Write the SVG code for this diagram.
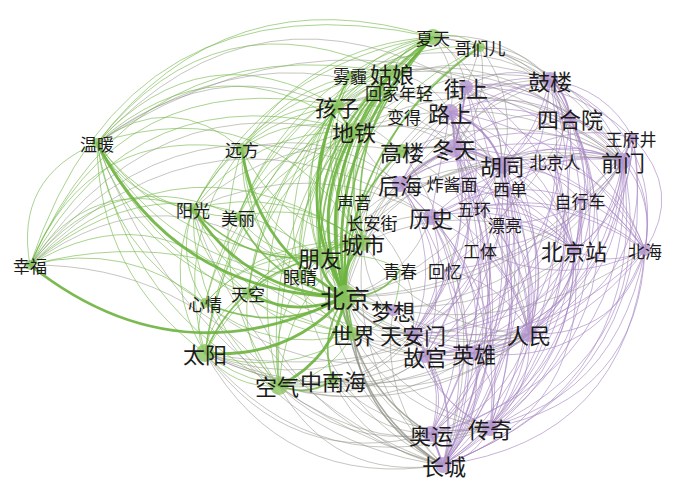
<svg xmlns="http://www.w3.org/2000/svg" width="700" height="492" viewBox="0 0 700 492">
<style>
#edges path{fill:none;stroke-linecap:round}
.g{stroke:#76b84c;stroke-opacity:.62;stroke-width:1}
.gm{stroke:#6cb33e;stroke-opacity:.82;stroke-width:1.7}
.gt{stroke:#6cb33e;stroke-opacity:.9;stroke-width:2.8}
.p{stroke:#a584c1;stroke-opacity:.62;stroke-width:1}
.pm{stroke:#a27fc0;stroke-opacity:.8;stroke-width:1.9}
.m{stroke:#8b8d82;stroke-opacity:.5;stroke-width:1}
.mm{stroke:#8b8d82;stroke-opacity:.75;stroke-width:1.6}
.ng{fill:#8cc461;fill-opacity:.8}
.np{fill:#b497cf;fill-opacity:.8}
text{font-family:"Noto Sans CJK SC","Noto Sans CJK JP",sans-serif;fill:#1b1b1b;text-anchor:middle;dominant-baseline:central}
.L{font-size:22px}.S{font-size:17px}.X{font-size:25px}
</style>
<rect width="700" height="492" fill="#ffffff"/>
<g id="edges">
<path class="p" d="M466 87Q505 62 550 80"/>
<path class="p" d="M466 87Q525 76 570 118"/>
<path class="p" d="M466 87Q562 84 623 161"/>
<path class="p" d="M466 87Q563 70 633 138"/>
<path class="p" d="M466 87Q503 117 502 165"/>
<path class="p" d="M466 87Q560 141 574 250"/>
<path class="pm" d="M466 87Q462 118 454 148"/>
<path class="p" d="M466 87Q558 194 529 334"/>
<path class="p" d="M466 87Q597 124 645 250"/>
<path class="p" d="M466 87Q549 282 443 465"/>
<path class="p" d="M466 87Q502 224 413 334"/>
<path class="pm" d="M550 80Q567 93 570 118"/>
<path class="p" d="M550 80Q606 102 623 161"/>
<path class="p" d="M550 80Q607 88 633 138"/>
<path class="p" d="M550 80Q664 128 645 250"/>
<path class="p" d="M550 80Q604 159 574 250"/>
<path class="p" d="M550 80Q641 216 529 334"/>
<path class="p" d="M550 80Q492 71 450 112"/>
<path class="p" d="M550 80Q547 134 502 165"/>
<path class="p" d="M550 80Q649 316 443 465"/>
<path class="p" d="M550 80Q485 90 454 148"/>
<path class="p" d="M570 118Q607 126 623 161"/>
<path class="p" d="M570 118Q660 155 645 250"/>
<path class="p" d="M570 118Q604 183 574 250"/>
<path class="p" d="M570 118Q644 343 443 465"/>
<path class="p" d="M570 118Q635 243 529 334"/>
<path class="p" d="M570 118Q524 124 502 165"/>
<path class="p" d="M570 118Q511 85 450 112"/>
<path class="p" d="M570 118Q654 305 490 428"/>
<path class="pm" d="M633 138Q626 150 623 161"/>
<path class="p" d="M633 138Q684 191 645 250"/>
<path class="p" d="M633 138Q632 210 574 250"/>
<path class="p" d="M633 138Q668 380 443 465"/>
<path class="p" d="M633 138Q660 279 529 334"/>
<path class="p" d="M633 138Q618 330 425 356"/>
<path class="p" d="M623 161Q655 200 645 250"/>
<path class="p" d="M623 161Q620 218 574 250"/>
<path class="p" d="M623 161Q653 386 443 465"/>
<path class="p" d="M623 161Q637 374 431 434"/>
<path class="p" d="M623 161Q663 347 490 428"/>
<path class="p" d="M623 161Q619 271 529 334"/>
<path class="p" d="M623 161Q588 330 413 334"/>
<path class="p" d="M623 161Q562 133 502 165"/>
<path class="p" d="M623 161Q589 144 555 161"/>
<path class="p" d="M623 161Q542 112 454 148"/>
<path class="p" d="M623 161Q506 116 400 184"/>
<path class="p" d="M623 161Q600 175 580 200"/>
<path class="p" d="M623 161Q626 316 474 353"/>
<path class="p" d="M623 161Q603 336 425 356"/>
<path class="p" d="M645 250Q628 440 443 465"/>
<path class="p" d="M645 250Q611 427 431 434"/>
<path class="p" d="M645 250Q638 400 490 428"/>
<path class="p" d="M645 250Q620 338 529 334"/>
<path class="p" d="M645 250Q601 369 474 353"/>
<path class="p" d="M645 250Q608 268 574 250"/>
<path class="p" d="M645 250Q594 173 502 165"/>
<path class="p" d="M645 250Q550 349 413 334"/>
<path class="p" d="M645 250Q562 358 425 356"/>
<path class="p" d="M574 250Q593 411 443 465"/>
<path class="p" d="M574 250Q576 360 490 428"/>
<path class="p" d="M574 250Q572 303 529 334"/>
<path class="p" d="M574 250Q515 331 413 334"/>
<path class="p" d="M574 250Q527 340 425 356"/>
<path class="p" d="M574 250Q511 199 431 217"/>
<path class="p" d="M574 250Q559 190 502 165"/>
<path class="p" d="M574 250Q582 224 580 200"/>
<path class="p" d="M574 250Q576 399 431 434"/>
<path class="p" d="M574 250Q550 327 474 353"/>
<path class="p" d="M529 334Q517 422 443 465"/>
<path class="p" d="M529 334Q505 408 431 434"/>
<path class="p" d="M529 334Q533 391 490 428"/>
<path class="p" d="M529 334Q507 357 474 353"/>
<path class="p" d="M529 334Q472 362 413 334"/>
<path class="p" d="M529 334Q483 370 425 356"/>
<path class="p" d="M529 334Q509 252 431 217"/>
<path class="p" d="M529 334Q557 243 502 165"/>
<path class="p" d="M529 334Q538 223 454 148"/>
<path class="p" d="M474 353Q486 418 443 465"/>
<path class="p" d="M474 353Q473 405 431 434"/>
<path class="p" d="M474 353Q502 387 490 428"/>
<path class="p" d="M474 353Q443 350 413 334"/>
<path class="p" d="M474 353Q536 266 502 165"/>
<path class="p" d="M474 353Q580 236 550 80"/>
<path class="p" d="M425 356Q461 408 443 465"/>
<path class="p" d="M425 356Q449 394 431 434"/>
<path class="p" d="M425 356Q441 408 490 428"/>
<path class="p" d="M425 356Q450 366 474 353"/>
<path class="p" d="M425 356Q557 273 570 118"/>
<path class="p" d="M413 334Q461 393 443 465"/>
<path class="p" d="M413 334Q448 380 431 434"/>
<path class="p" d="M413 334Q429 400 490 428"/>
<path class="p" d="M413 334Q425 340 425 356"/>
<path class="pm" d="M431 434Q438 450 443 465"/>
<path class="p" d="M490 428Q474 459 443 465"/>
<path class="p" d="M490 428Q460 428 431 434"/>
<path class="p" d="M431 434Q580 311 570 118"/>
<path class="p" d="M490 428Q607 269 550 80"/>
<path class="p" d="M490 428Q590 311 555 161"/>
<path class="pm" d="M502 165Q478 150 454 148"/>
<path class="p" d="M502 165Q530 155 555 161"/>
<path class="p" d="M502 165Q447 149 400 184"/>
<path class="p" d="M502 165Q480 209 431 217"/>
<path class="p" d="M502 165Q546 331 443 465"/>
<path class="p" d="M502 165Q534 318 431 434"/>
<path class="p" d="M502 165Q562 300 490 428"/>
<path class="p" d="M502 165Q501 271 413 334"/>
<path class="p" d="M502 165Q513 280 425 356"/>
<path class="pm" d="M502 165Q489 126 450 112"/>
<path class="p" d="M502 165Q550 163 580 200"/>
<path class="p" d="M502 165Q510 175 510 188"/>
<path class="p" d="M502 165Q485 180 474 208"/>
<path class="p" d="M502 165Q512 195 505 224"/>
<path class="p" d="M502 165Q561 119 633 138"/>
<path class="p" d="M454 148Q527 311 443 465"/>
<path class="p" d="M454 148Q543 279 490 428"/>
<path class="p" d="M454 148Q481 251 413 334"/>
<path class="pm" d="M454 148Q425 160 400 184"/>
<path class="p" d="M454 148Q540 170 574 250"/>
<path class="p" d="M454 148Q505 104 570 118"/>
<path class="p" d="M454 148Q575 151 645 250"/>
<path class="p" d="M454 148Q492 259 425 356"/>
<path class="p" d="M454 148Q515 246 474 353"/>
<path class="p" d="M454 148Q514 297 431 434"/>
<path class="p" d="M450 112Q533 291 443 465"/>
<path class="p" d="M450 112Q545 204 529 334"/>
<path class="p" d="M450 112Q488 232 413 334"/>
<path class="p" d="M450 112Q546 150 574 250"/>
<path class="p" d="M450 112Q440 165 431 217"/>
<path class="p" d="M450 112Q420 145 400 184"/>
<path class="pm" d="M450 112Q455 130 454 148"/>
<path class="p" d="M450 112Q521 278 431 434"/>
<path class="p" d="M450 112Q549 260 490 428"/>
<path class="p" d="M450 112Q499 240 425 356"/>
<path class="p" d="M450 112Q549 94 623 161"/>
<path class="p" d="M450 112Q582 132 645 250"/>
<path class="p" d="M400 184Q491 314 443 465"/>
<path class="p" d="M400 184Q457 263 425 356"/>
<path class="p" d="M400 184Q502 227 529 334"/>
<path class="p" d="M400 184Q504 174 574 250"/>
<path class="p" d="M400 184Q415 200 431 217"/>
<path class="p" d="M400 184Q444 256 413 334"/>
<path class="p" d="M400 184Q506 284 490 428"/>
<path class="p" d="M400 184Q449 95 550 80"/>
<path class="p" d="M431 217Q498 339 443 465"/>
<path class="p" d="M431 217Q514 308 490 428"/>
<path class="p" d="M431 217Q453 279 413 334"/>
<path class="p" d="M431 217Q514 141 623 161"/>
<path class="p" d="M431 217Q546 180 645 250"/>
<path class="p" d="M431 217Q485 326 431 434"/>
<path class="p" d="M431 217Q487 274 474 353"/>
<path class="p" d="M431 217Q525 179 550 80"/>
<path class="p" d="M580 200Q576 368 443 465"/>
<path class="p" d="M580 200Q588 280 529 334"/>
<path class="p" d="M580 200Q530 309 413 334"/>
<path class="p" d="M580 200Q502 172 431 217"/>
<path class="p" d="M580 200Q620 215 645 250"/>
<path class="p" d="M510 188Q546 343 443 465"/>
<path class="p" d="M510 188Q498 286 413 334"/>
<path class="p" d="M510 188Q560 147 623 161"/>
<path class="p" d="M510 188Q558 203 574 250"/>
<path class="p" d="M510 188Q556 256 529 334"/>
<path class="p" d="M474 208Q523 344 443 465"/>
<path class="p" d="M474 208Q533 257 529 334"/>
<path class="p" d="M474 208Q535 204 574 250"/>
<path class="p" d="M474 208Q570 186 645 250"/>
<path class="p" d="M474 208Q537 148 623 161"/>
<path class="p" d="M505 224Q533 360 443 465"/>
<path class="p" d="M505 224Q580 222 623 161"/>
<path class="p" d="M505 224Q521 348 431 434"/>
<path class="p" d="M505 224Q545 225 574 250"/>
<path class="p" d="M505 224Q545 273 529 334"/>
<path class="p" d="M480 250Q514 368 443 465"/>
<path class="p" d="M480 250Q574 241 623 161"/>
<path class="p" d="M480 250Q563 291 645 250"/>
<path class="p" d="M480 250Q520 280 529 334"/>
<path class="p" d="M480 250Q468 309 413 334"/>
<path class="p" d="M445 270Q494 368 443 465"/>
<path class="p" d="M445 270Q562 260 623 161"/>
<path class="p" d="M445 270Q545 201 550 80"/>
<path class="p" d="M445 270Q440 310 413 334"/>
<path class="p" d="M445 270Q503 281 529 334"/>
<path class="p" d="M555 161Q574 342 443 465"/>
<path class="p" d="M555 161Q585 255 529 334"/>
<path class="p" d="M555 161Q621 184 645 250"/>
<path class="p" d="M555 161Q573 120 550 80"/>
<path class="p" d="M452 183Q532 129 623 161"/>
<path class="p" d="M452 183Q529 240 529 334"/>
<path class="p" d="M452 183Q519 326 443 465"/>
<path class="p" d="M452 183Q480 165 502 165"/>
<path class="p" d="M452 183Q530 186 574 250"/>
<path class="mm" d="M345 297Q350 405 443 465"/>
<path class="mm" d="M345 297Q354 387 431 434"/>
<path class="m" d="M345 297Q384 398 490 428"/>
<path class="m" d="M345 297Q427 361 529 334"/>
<path class="m" d="M345 297Q518 298 623 161"/>
<path class="m" d="M345 297Q502 263 570 118"/>
<path class="m" d="M345 297Q393 137 550 80"/>
<path class="m" d="M345 297Q456 270 502 165"/>
<path class="m" d="M345 297Q471 330 574 250"/>
<path class="mm" d="M345 297Q371 332 413 334"/>
<path class="m" d="M345 297Q371 347 425 356"/>
<path class="m" d="M345 297Q408 279 431 217"/>
<path class="m" d="M345 297Q352 162 466 87"/>
<path class="m" d="M345 297Q396 357 474 353"/>
<path class="m" d="M345 297Q529 290 633 138"/>
<path class="m" d="M345 297Q507 349 645 250"/>
<path class="m" d="M345 297Q363 196 454 148"/>
<path class="m" d="M345 297Q352 179 450 112"/>
<path class="m" d="M97 143Q252 25 402 151"/>
<path class="m" d="M97 143Q366 -32 623 161"/>
<path class="m" d="M97 143Q259 -32 466 87"/>
<path class="m" d="M97 143Q308 -8 502 165"/>
<path class="m" d="M97 143Q190 390 443 465"/>
<path class="m" d="M30 265Q170 59 402 151"/>
<path class="m" d="M30 265Q212 80 431 217"/>
<path class="m" d="M30 265Q182 76 400 184"/>
<path class="m" d="M30 265Q170 161 300 276"/>
<path class="m" d="M30 265Q185 264 279 386"/>
<path class="m" d="M193 209Q282 128 402 151"/>
<path class="m" d="M193 209Q314 153 431 217"/>
<path class="m" d="M193 209Q272 327 413 334"/>
<path class="m" d="M193 209Q254 400 443 465"/>
<path class="m" d="M242 149Q329 126 400 184"/>
<path class="m" d="M205 353Q283 491 443 465"/>
<path class="m" d="M205 353Q290 472 431 434"/>
<path class="m" d="M205 353Q315 410 425 356"/>
<path class="m" d="M205 353Q315 395 413 334"/>
<path class="m" d="M205 353Q371 424 529 334"/>
<path class="m" d="M205 353Q321 490 490 428"/>
<path class="m" d="M205 353Q340 420 474 353"/>
<path class="m" d="M205 353Q416 394 574 250"/>
<path class="m" d="M279 386Q333 482 443 465"/>
<path class="m" d="M279 386Q343 448 431 434"/>
<path class="m" d="M279 386Q375 460 490 428"/>
<path class="m" d="M279 386Q361 408 425 356"/>
<path class="m" d="M279 386Q386 419 474 353"/>
<path class="m" d="M279 386Q417 423 529 334"/>
<path class="m" d="M279 386Q359 394 413 334"/>
<path class="m" d="M248 293Q303 428 443 465"/>
<path class="m" d="M205 303Q284 444 443 465"/>
<path class="m" d="M205 303Q302 385 425 356"/>
<path class="m" d="M300 276Q325 407 443 465"/>
<path class="mm" d="M353 334Q363 421 443 465"/>
<path class="m" d="M353 334Q383 349 413 334"/>
<path class="m" d="M353 334Q440 378 529 334"/>
<path class="m" d="M353 334Q385 358 425 356"/>
<path class="m" d="M353 334Q367 404 431 434"/>
<path class="m" d="M353 334Q398 415 490 428"/>
<path class="m" d="M320 257Q328 391 443 465"/>
<path class="m" d="M320 257Q447 132 623 161"/>
<path class="m" d="M320 257Q388 165 502 165"/>
<path class="m" d="M320 257Q406 348 529 334"/>
<path class="m" d="M320 257Q348 319 413 334"/>
<path class="m" d="M363 243Q390 212 431 217"/>
<path class="m" d="M363 243Q422 330 529 334"/>
<path class="m" d="M363 243Q469 193 574 250"/>
<path class="m" d="M363 243Q348 374 443 465"/>
<path class="m" d="M363 243Q365 301 413 334"/>
<path class="m" d="M363 243Q413 169 502 165"/>
<path class="m" d="M363 243Q385 173 454 148"/>
<path class="m" d="M363 243Q370 205 400 184"/>
<path class="m" d="M433 37Q460 70 450 112"/>
<path class="m" d="M433 37Q461 54 466 87"/>
<path class="m" d="M433 37Q502 29 550 80"/>
<path class="m" d="M433 37Q522 44 570 118"/>
<path class="m" d="M433 37Q500 84 502 165"/>
<path class="m" d="M433 37Q559 52 623 161"/>
<path class="m" d="M480 47Q523 46 550 80"/>
<path class="m" d="M480 47Q474 68 466 87"/>
<path class="m" d="M480 47Q543 60 570 118"/>
<path class="m" d="M480 47Q520 100 502 165"/>
<path class="m" d="M480 47Q580 68 623 161"/>
<path class="m" d="M480 47Q492 104 454 148"/>
<path class="m" d="M392 73Q433 61 466 87"/>
<path class="m" d="M392 73Q431 78 450 112"/>
<path class="m" d="M392 73Q530 59 623 161"/>
<path class="m" d="M337 106Q395 80 450 112"/>
<path class="m" d="M337 106Q407 97 454 148"/>
<path class="m" d="M337 106Q494 62 623 161"/>
<path class="m" d="M354 131Q408 114 454 148"/>
<path class="m" d="M354 131Q436 111 502 165"/>
<path class="m" d="M354 131Q438 56 550 80"/>
<path class="m" d="M354 131Q458 70 570 118"/>
<path class="m" d="M354 131Q496 79 623 161"/>
<path class="m" d="M354 131Q370 165 400 184"/>
<path class="m" d="M337 106Q437 39 550 80"/>
<path class="m" d="M392 73Q493 51 570 118"/>
<path class="m" d="M350 75Q451 27 550 80"/>
<path class="mm" d="M454 148Q430 145 402 151"/>
<path class="m" d="M402 151Q450 140 502 165"/>
<path class="m" d="M402 151Q458 79 550 80"/>
<path class="m" d="M372 222Q420 268 413 334"/>
<path class="m" d="M372 222Q482 128 623 161"/>
<path class="m" d="M393 310Q378 400 443 465"/>
<path class="m" d="M393 310Q455 356 529 334"/>
<path class="m" d="M393 310Q546 293 623 161"/>
<path class="m" d="M333 380Q366 450 443 465"/>
<path class="m" d="M333 380Q385 377 413 334"/>
<path class="m" d="M333 380Q442 406 529 334"/>
<path class="m" d="M333 380Q385 391 425 356"/>
<path class="m" d="M333 380Q369 432 431 434"/>
<path class="m" d="M333 380Q400 443 490 428"/>
<path class="m" d="M402 151Q500 299 443 465"/>
<path class="m" d="M402 151Q515 101 623 161"/>
<path class="m" d="M402 151Q511 211 529 334"/>
<path class="g" d="M97 143Q227 -27 433 37"/>
<path class="g" d="M97 143Q217 -10 392 73"/>
<path class="g" d="M97 143Q202 28 337 106"/>
<path class="g" d="M97 143Q220 35 354 131"/>
<path class="g" d="M97 143Q180 256 320 257"/>
<path class="g" d="M97 143Q269 87 363 243"/>
<path class="g" d="M97 143Q171 88 242 149"/>
<path class="g" d="M97 143Q128 200 193 209"/>
<path class="g" d="M97 143Q148 215 238 217"/>
<path class="g" d="M97 143Q98 275 205 353"/>
<path class="g" d="M97 143Q176 302 353 334"/>
<path class="g" d="M97 143Q166 261 300 276"/>
<path class="g" d="M97 143Q135 256 248 293"/>
<path class="g" d="M97 143Q111 250 205 303"/>
<path class="g" d="M97 143Q127 310 279 386"/>
<path class="g" d="M30 265Q128 -30 433 37"/>
<path class="g" d="M30 265Q134 24 392 73"/>
<path class="g" d="M30 265Q14 177 97 143"/>
<path class="g" d="M30 265Q89 122 242 149"/>
<path class="g" d="M30 265Q89 172 193 209"/>
<path class="g" d="M30 265Q187 121 363 243"/>
<path class="g" d="M30 265Q172 145 320 257"/>
<path class="g" d="M30 265Q119 62 337 106"/>
<path class="g" d="M30 265Q137 68 354 131"/>
<path class="g" d="M30 265Q150 192 248 293"/>
<path class="g" d="M30 265Q115 158 238 217"/>
<path class="g" d="M30 265Q127 240 205 303"/>
<path class="g" d="M30 265Q208 218 353 334"/>
<path class="g" d="M193 209Q269 63 433 37"/>
<path class="g" d="M193 209Q258 91 392 73"/>
<path class="g" d="M193 209Q252 130 354 131"/>
<path class="g" d="M193 209Q239 121 337 106"/>
<path class="gm" d="M193 209Q244 265 320 257"/>
<path class="g" d="M193 209Q285 184 363 243"/>
<path class="g" d="M193 209Q241 312 353 334"/>
<path class="g" d="M193 209Q199 265 248 293"/>
<path class="g" d="M193 209Q192 320 279 386"/>
<path class="g" d="M193 209Q162 284 205 353"/>
<path class="g" d="M193 209Q175 259 205 303"/>
<path class="g" d="M242 149Q308 45 433 37"/>
<path class="g" d="M242 149Q298 72 392 73"/>
<path class="g" d="M242 149Q278 103 337 106"/>
<path class="g" d="M242 149Q293 112 354 131"/>
<path class="g" d="M242 149Q253 223 320 257"/>
<path class="g" d="M242 149Q278 226 363 243"/>
<path class="g" d="M242 149Q250 269 353 334"/>
<path class="g" d="M242 149Q172 242 205 353"/>
<path class="g" d="M242 149Q201 278 279 386"/>
<path class="g" d="M242 149Q239 227 300 276"/>
<path class="g" d="M248 293Q275 257 320 257"/>
<path class="g" d="M248 293Q292 239 363 243"/>
<path class="g" d="M248 293Q240 348 279 386"/>
<path class="g" d="M248 293Q211 312 205 353"/>
<path class="g" d="M248 293Q290 339 353 334"/>
<path class="g" d="M248 293Q277 119 433 37"/>
<path class="g" d="M248 293Q265 147 392 73"/>
<path class="g" d="M248 293Q261 186 354 131"/>
<path class="g" d="M205 303Q251 251 320 257"/>
<path class="g" d="M205 303Q270 355 353 334"/>
<path class="g" d="M205 303Q268 234 363 243"/>
<path class="g" d="M205 303Q192 328 205 353"/>
<path class="g" d="M205 303Q253 113 433 37"/>
<path class="g" d="M205 303Q237 180 354 131"/>
<path class="gm" d="M205 353Q238 276 320 257"/>
<path class="g" d="M205 353Q256 259 363 243"/>
<path class="g" d="M205 353Q283 380 353 334"/>
<path class="g" d="M205 353Q234 389 279 386"/>
<path class="g" d="M205 353Q262 398 333 380"/>
<path class="g" d="M205 353Q240 138 433 37"/>
<path class="g" d="M205 353Q229 166 392 73"/>
<path class="g" d="M205 353Q224 205 354 131"/>
<path class="g" d="M279 386Q267 312 320 257"/>
<path class="g" d="M279 386Q285 294 363 243"/>
<path class="gm" d="M279 386Q309 397 333 380"/>
<path class="g" d="M279 386Q329 378 353 334"/>
<path class="g" d="M279 386Q269 173 433 37"/>
<path class="g" d="M279 386Q258 202 392 73"/>
<path class="g" d="M279 386Q238 232 337 106"/>
<path class="g" d="M353 334Q377 332 393 310"/>
<path class="gm" d="M353 334Q319 166 433 37"/>
<path class="g" d="M353 334Q308 194 392 73"/>
<path class="g" d="M353 334Q303 233 354 131"/>
<path class="g" d="M353 334Q288 224 337 106"/>
<path class="g" d="M300 276Q307 124 433 37"/>
<path class="g" d="M300 276Q295 152 392 73"/>
<path class="g" d="M300 276Q291 190 354 131"/>
<path class="g" d="M300 276Q276 182 337 106"/>
<path class="gm" d="M320 257Q321 119 433 37"/>
<path class="gm" d="M320 257Q310 146 392 73"/>
<path class="g" d="M320 257Q290 177 337 106"/>
<path class="g" d="M320 257Q305 186 354 131"/>
<path class="gm" d="M320 257Q337 240 363 243"/>
<path class="g" d="M320 257Q317 303 353 334"/>
<path class="g" d="M320 257Q290 159 350 75"/>
<path class="g" d="M320 257Q348 112 480 47"/>
<path class="g" d="M320 257Q310 159 382 92"/>
<path class="gm" d="M363 243Q345 122 433 37"/>
<path class="g" d="M363 243Q334 149 392 73"/>
<path class="g" d="M363 243Q315 180 337 106"/>
<path class="g" d="M363 243Q372 115 480 47"/>
<path class="g" d="M363 243Q334 286 353 334"/>
<path class="g" d="M363 243Q331 189 354 131"/>
<path class="g" d="M363 243Q315 162 350 75"/>
<path class="g" d="M363 243Q335 163 382 92"/>
<path class="g" d="M433 37Q403 44 392 73"/>
<path class="g" d="M433 37Q367 47 337 106"/>
<path class="g" d="M433 37Q369 64 354 131"/>
<path class="g" d="M433 37Q458 30 480 47"/>
<path class="g" d="M480 47Q394 40 337 106"/>
<path class="g" d="M350 75Q370 70 392 73"/>
<path class="g" d="M392 73Q365 85 337 106"/>
<path class="gm" d="M337 106Q340 118 354 131"/>
<path class="g" d="M382 92Q360 100 337 106"/>
<path class="g" d="M372 222Q340 253 345 297"/>
<path class="g" d="M354 201Q352 100 433 37"/>
<path class="g" d="M354 201Q340 250 345 297"/>
<path class="g" d="M393 310Q344 302 320 257"/>
<path class="gm" d="M333 380Q318 336 345 297"/>
<path class="g" d="M300 276Q324 244 363 243"/>
<path class="g" d="M238 217Q269 258 320 257"/>
<path class="g" d="M238 217Q307 199 363 243"/>
<path class="g" d="M238 217Q274 145 354 131"/>
<path class="g" d="M238 217Q291 78 433 37"/>
<path class="g" d="M238 217Q279 107 392 73"/>
<path class="g" d="M400 270Q370 250 320 257"/>
<path class="g" d="M400 270Q400 290 393 310"/>
<path class="gm" d="M345 297Q276 335 205 303"/>
<path class="gm" d="M345 297Q271 284 238 217"/>
<path class="gm" d="M345 297Q340 317 353 334"/>
<path class="gm" d="M345 297Q318 297 300 276"/>
<path class="gm" d="M345 297Q292 185 350 75"/>
<path class="gm" d="M345 297Q312 185 382 92"/>
<path class="gm" d="M345 297Q337 210 402 151"/>
<path class="gm" d="M345 297Q382 298 400 270"/>
<path class="gm" d="M345 297Q350 138 480 47"/>
<path class="gt" d="M345 297Q177 382 30 265"/>
<path class="gt" d="M345 297Q175 294 97 143"/>
<path class="gt" d="M345 297Q289 360 205 353"/>
<path class="gt" d="M345 297Q246 292 193 209"/>
<path class="gt" d="M345 297Q295 319 248 293"/>
<path class="gt" d="M345 297Q256 249 242 149"/>
<path class="gt" d="M345 297Q323 145 433 37"/>
<path class="gt" d="M345 297Q313 172 392 73"/>
<path class="gt" d="M345 297Q307 212 354 131"/>
<path class="gt" d="M345 297Q293 203 337 106"/>
<path class="gt" d="M345 297Q322 283 320 257"/>
<path class="gt" d="M345 297Q335 358 279 386"/>
<path class="gt" d="M345 297Q340 266 363 243"/>
</g>
<g id="nodes">
<g id="n-beijing"><circle class="ng" cx="345" cy="297" r="12"/><text class="X" x="345" y="297">北京</text></g>
<g id="n-xingfu"><circle class="ng" cx="30" cy="265" r="5"/><text class="S" x="30" y="265">幸福</text></g>
<g id="n-wennuan"><circle class="ng" cx="97" cy="143" r="5"/><text class="S" x="97" y="143">温暖</text></g>
<g id="n-taiyang"><circle class="ng" cx="205" cy="353" r="9"/><text class="L" x="205" y="353">太阳</text></g>
<g id="n-yangguang"><circle class="ng" cx="193" cy="209" r="5"/><text class="S" x="193" y="209">阳光</text></g>
<g id="n-tiankong"><circle class="ng" cx="248" cy="293" r="6"/><text class="S" x="248" y="293">天空</text></g>
<g id="n-xinqing"><circle class="ng" cx="205" cy="303" r="5"/><text class="S" x="205" y="303">心情</text></g>
<g id="n-yuanfang"><circle class="ng" cx="242" cy="149" r="6"/><text class="S" x="242" y="149">远方</text></g>
<g id="n-meili"><circle class="ng" cx="238" cy="217" r="4"/><text class="S" x="238" y="217">美丽</text></g>
<g id="n-xiatian"><circle class="ng" cx="433" cy="37" r="8"/><text class="S" x="433" y="37">夏天</text></g>
<g id="n-gemenr"><circle class="ng" cx="480" cy="47" r="5"/><text class="S" x="480" y="47">哥们儿</text></g>
<g id="n-wumai"><circle class="ng" cx="350" cy="75" r="4"/><text class="S" x="350" y="75">雾霾</text></g>
<g id="n-guniang"><circle class="ng" cx="392" cy="73" r="8"/><text class="L" x="392" y="73">姑娘</text></g>
<g id="n-huijia"><circle class="ng" cx="382" cy="92" r="4"/><text class="S" x="382" y="92">回家</text></g>
<g id="n-nianqing"><text class="S" x="416" y="92">年轻</text></g>
<g id="n-haizi"><circle class="ng" cx="337" cy="106" r="7"/><text class="L" x="337" y="106">孩子</text></g>
<g id="n-biande"><text class="S" x="404" y="116">变得</text></g>
<g id="n-ditie"><circle class="ng" cx="354" cy="131" r="8"/><text class="L" x="354" y="131">地铁</text></g>
<g id="n-gaolou"><circle class="ng" cx="402" cy="151" r="7"/><text class="L" x="402" y="151">高楼</text></g>
<g id="n-pengyou"><circle class="ng" cx="320" cy="257" r="9"/><text class="L" x="320" y="257">朋友</text></g>
<g id="n-chengshi"><circle class="ng" cx="363" cy="243" r="8"/><text class="L" x="363" y="243">城市</text></g>
<g id="n-kongqi"><circle class="ng" cx="279" cy="386" r="9"/><text class="L" x="277" y="385">空气</text></g>
<g id="n-shijie"><circle class="ng" cx="353" cy="334" r="7"/><text class="L" x="353" y="334">世界</text></g>
<g id="n-yanjing"><circle class="ng" cx="300" cy="276" r="4"/><text class="S" x="300" y="276">眼睛</text></g>
<g id="n-zhongnanhai"><circle class="ng" cx="333" cy="380" r="6"/><text class="L" x="333" y="380">中南海</text></g>
<g id="n-qingchun"><text class="S" x="400" y="270">青春</text></g>
<g id="n-shengyin"><text class="S" x="354" y="201">声音</text></g>
<g id="n-changanjie"><text class="S" x="372" y="222">长安街</text></g>
<g id="n-mengxiang"><circle class="np" cx="393" cy="310" r="6"/><text class="L" x="393" y="310">梦想</text></g>
<g id="n-jieshang"><circle class="np" cx="466" cy="87" r="7"/><text class="L" x="466" y="87">街上</text></g>
<g id="n-gulou"><circle class="np" cx="550" cy="80" r="8"/><text class="L" x="550" y="80">鼓楼</text></g>
<g id="n-lushang"><circle class="np" cx="450" cy="112" r="8"/><text class="L" x="450" y="112">路上</text></g>
<g id="n-siheyuan"><circle class="np" cx="570" cy="118" r="6"/><text class="L" x="570" y="118">四合院</text></g>
<g id="n-wangfujing"><circle class="np" cx="633" cy="138" r="5"/><text class="S" x="631" y="138">王府井</text></g>
<g id="n-dongtian"><circle class="np" cx="454" cy="148" r="9"/><text class="L" x="454" y="148">冬天</text></g>
<g id="n-hutong"><circle class="np" cx="502" cy="165" r="9"/><text class="L" x="502" y="165">胡同</text></g>
<g id="n-beijingren"><text class="S" x="555" y="161">北京人</text></g>
<g id="n-qianmen"><circle class="np" cx="623" cy="161" r="8"/><text class="L" x="623" y="161">前门</text></g>
<g id="n-houhai"><circle class="np" cx="400" cy="184" r="8"/><text class="L" x="400" y="184">后海</text></g>
<g id="n-zhajiangmian"><text class="S" x="452" y="183">炸酱面</text></g>
<g id="n-xidan"><text class="S" x="510" y="188">西单</text></g>
<g id="n-zixingche"><circle class="np" cx="580" cy="200" r="4"/><text class="S" x="580" y="200">自行车</text></g>
<g id="n-wuhuan"><text class="S" x="474" y="208">五环</text></g>
<g id="n-lishi"><circle class="np" cx="431" cy="217" r="8"/><text class="L" x="431" y="217">历史</text></g>
<g id="n-piaoliang"><text class="S" x="505" y="224">漂亮</text></g>
<g id="n-gongti"><text class="S" x="480" y="250">工体</text></g>
<g id="n-beijingzhan"><circle class="np" cx="574" cy="250" r="6"/><text class="L" x="574" y="250">北京站</text></g>
<g id="n-beihai"><circle class="np" cx="645" cy="250" r="6"/><text class="S" x="645" y="250">北海</text></g>
<g id="n-huiyi"><text class="S" x="445" y="270">回忆</text></g>
<g id="n-tiananmen"><circle class="np" cx="413" cy="334" r="7"/><text class="L" x="413" y="334">天安门</text></g>
<g id="n-renmin"><circle class="np" cx="529" cy="334" r="8"/><text class="L" x="529" y="334">人民</text></g>
<g id="n-gugong"><circle class="np" cx="425" cy="356" r="7"/><text class="L" x="425" y="356">故宫</text></g>
<g id="n-yingxiong"><circle class="np" cx="474" cy="353" r="7"/><text class="L" x="474" y="353">英雄</text></g>
<g id="n-chuanqi"><circle class="np" cx="490" cy="428" r="8"/><text class="L" x="490" y="428">传奇</text></g>
<g id="n-aoyun"><circle class="np" cx="431" cy="434" r="8"/><text class="L" x="431" y="434">奥运</text></g>
<g id="n-changcheng"><circle class="np" cx="443" cy="465" r="8"/><text class="L" x="444" y="465">长城</text></g>
</g>
</svg>
